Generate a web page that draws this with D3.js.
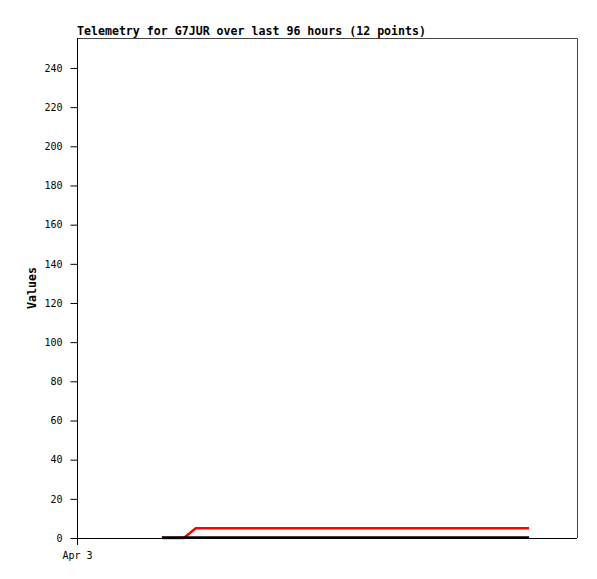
<!DOCTYPE html>
<meta charset="utf-8">
<script src="https://cdn.jsdelivr.net/npm/d3@7"></script>
<style>
body { margin: 0; background: #fff; }
text { font-family: "DejaVu Sans Mono", monospace; fill: #000; }
.tick text { font-size: 10px; }
</style>
<body>
<script>

// hours after Apr 3 00:00
var hours = [16.3, 20.5, 22.8, 29, 35, 41, 47, 53, 60, 67, 74, 86.8];
var redValues = [0, 0, 5, 5, 5, 5, 5, 5, 5, 5, 5, 5];
var blackValues = [0, 0, 0, 0, 0, 0, 0, 0, 0, 0, 0, 0];
var yTicks = [0, 20, 40, 60, 80, 100, 120, 140, 160, 180, 200, 220, 240];
var xTickLabels = ["Apr 3"];

var width = 597, height = 579;
var plotLeft = 77, plotRight = 577, plotTop = 38, plotBottom = 538;

var start = new Date(2000, 3, 3);
var times = hours.map(function(h) { return new Date(start.getTime() + h * 3600e3); });

var x = d3.scaleTime()
    .domain([start, new Date(start.getTime() + 96 * 3600e3)])
    .range([plotLeft, plotRight]);
var y = d3.scaleLinear().domain([0, 255.3]).range([plotBottom, plotTop]);

var svg = d3.select("body").append("svg")
    .attr("width", width)
    .attr("height", height);

// frame
svg.append("path")
    .attr("d", "M" + plotLeft + "," + (plotTop + 0.5) + "H" + (plotRight + 0.5) + "V" + plotBottom)
    .attr("fill", "none")
    .attr("stroke", "#444")
    .attr("stroke-width", 1);

var line = d3.line()
    .x(function(d) { return x(d.t); })
    .y(function(d) { return y(d.v); });

var red = times.map(function(t, i) { return {t: t, v: redValues[i]}; });
var black = times.map(function(t, i) { return {t: t, v: blackValues[i]}; });

svg.append("path").datum(red)
    .attr("d", line)
    .attr("fill", "none")
    .attr("stroke", "#ff0000")
    .attr("stroke-width", 2.5);

svg.append("path").datum(black)
    .attr("d", line)
    .attr("fill", "none")
    .attr("stroke", "#000")
    .attr("stroke-width", 2.5)
    .attr("transform", "translate(0,-0.5)");

// y axis
var yAxis = svg.append("g")
    .attr("transform", "translate(" + (plotLeft + 0.5) + ",0)")
    .call(d3.axisLeft(y).tickValues(yTicks).tickSize(7).tickPadding(8).tickSizeOuter(0));
yAxis.select(".domain").attr("d", "M0," + plotTop + "V" + (plotBottom + 7)).attr("stroke", "#000");
yAxis.selectAll(".tick line").attr("stroke", "#000");

// x axis
var xAxis = svg.append("g")
    .attr("transform", "translate(0," + (plotBottom + 0.5) + ")")
    .call(d3.axisBottom(x).tickValues([start]).tickFormat(function(d, i) { return xTickLabels[i]; })
        .tickSize(0).tickPadding(13).tickSizeOuter(0));
xAxis.select(".domain").attr("d", "M" + plotLeft + ",0H" + plotRight).attr("stroke", "#000");

svg.append("text")
    .attr("x", plotLeft)
    .attr("y", 35)
    .style("font-size", "11.6px")
    .style("font-weight", "bold")
    .text("Telemetry for G7JUR over last 96 hours (12 points)");

svg.append("text")
    .attr("transform", "translate(36,288) rotate(-90)")
    .attr("text-anchor", "middle")
    .style("font-size", "11.6px")
    .style("font-weight", "bold")
    .text("Values");

</script>
</body>
